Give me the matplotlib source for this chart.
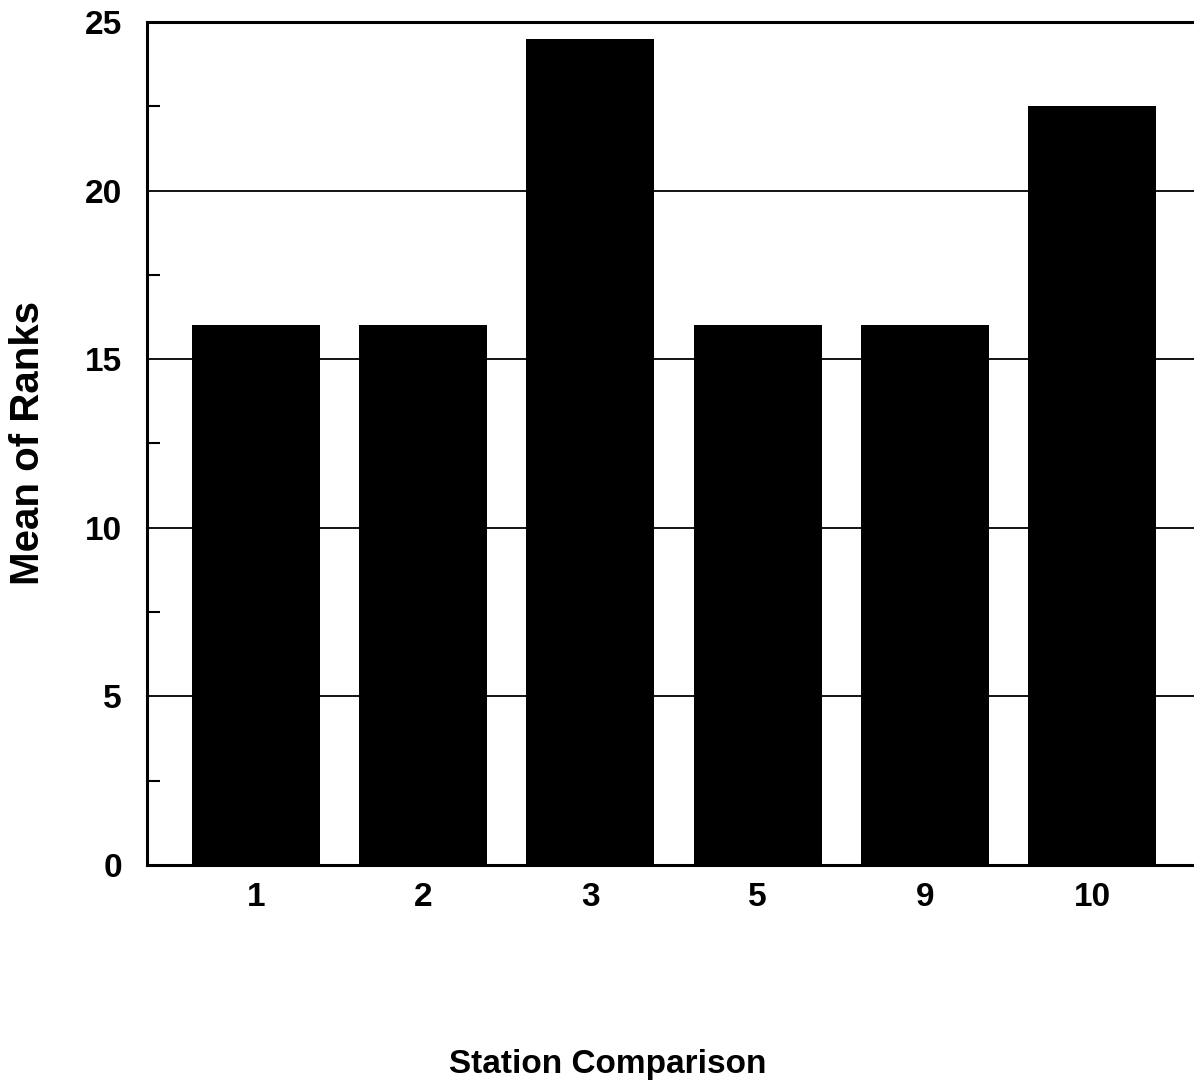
import numpy as np
import matplotlib.pyplot as plt
from matplotlib.ticker import MultipleLocator

# mean rank per station comparison
stations = ['1', '2', '3', '5', '9', '10']
mean_ranks = [16.0, 16.0, 24.5, 16.0, 16.0, 22.5]

plt.rcParams['font.family'] = ['Liberation Sans', 'DejaVu Sans']

fig = plt.figure(figsize=(11.94, 10.87), dpi=100)
ax = fig.add_axes([0.1231, 0.2042, 0.8827, 0.7756])

x = np.arange(len(stations))
ax.bar(x, mean_ranks, width=0.765, color='black', zorder=3)

ax.set_xlim(-0.65, len(stations) - 0.35)
ax.set_ylim(0, 25)
ax.set_xticks(x)
ax.set_xticklabels(stations)
ax.yaxis.set_major_locator(MultipleLocator(5))
ax.yaxis.set_minor_locator(MultipleLocator(2.5))

ax.grid(axis='y', which='major', color='black', linewidth=1.3, zorder=1)
ax.tick_params(axis='y', which='major', length=0, pad=18, labelsize=24)
ax.tick_params(axis='y', which='minor', direction='in', length=9, width=1.5)
ax.tick_params(axis='x', length=0, pad=12, labelsize=24)
for lab in ax.get_xticklabels() + ax.get_yticklabels():
    lab.set_fontweight('bold')

for side in ['left', 'bottom', 'top']:
    ax.spines[side].set_linewidth(2.2)
ax.spines['right'].set_visible(False)

ax.set_ylabel('Mean of Ranks', fontsize=29, fontweight='bold', va='center')
ax.yaxis.set_label_coords(-0.113, 0.5)
ax.set_xlabel('Station Comparison', fontsize=24, fontweight='bold', va='center')
ax.xaxis.set_label_coords(0.437, -0.237)

fig.savefig('out.png', dpi=100)
